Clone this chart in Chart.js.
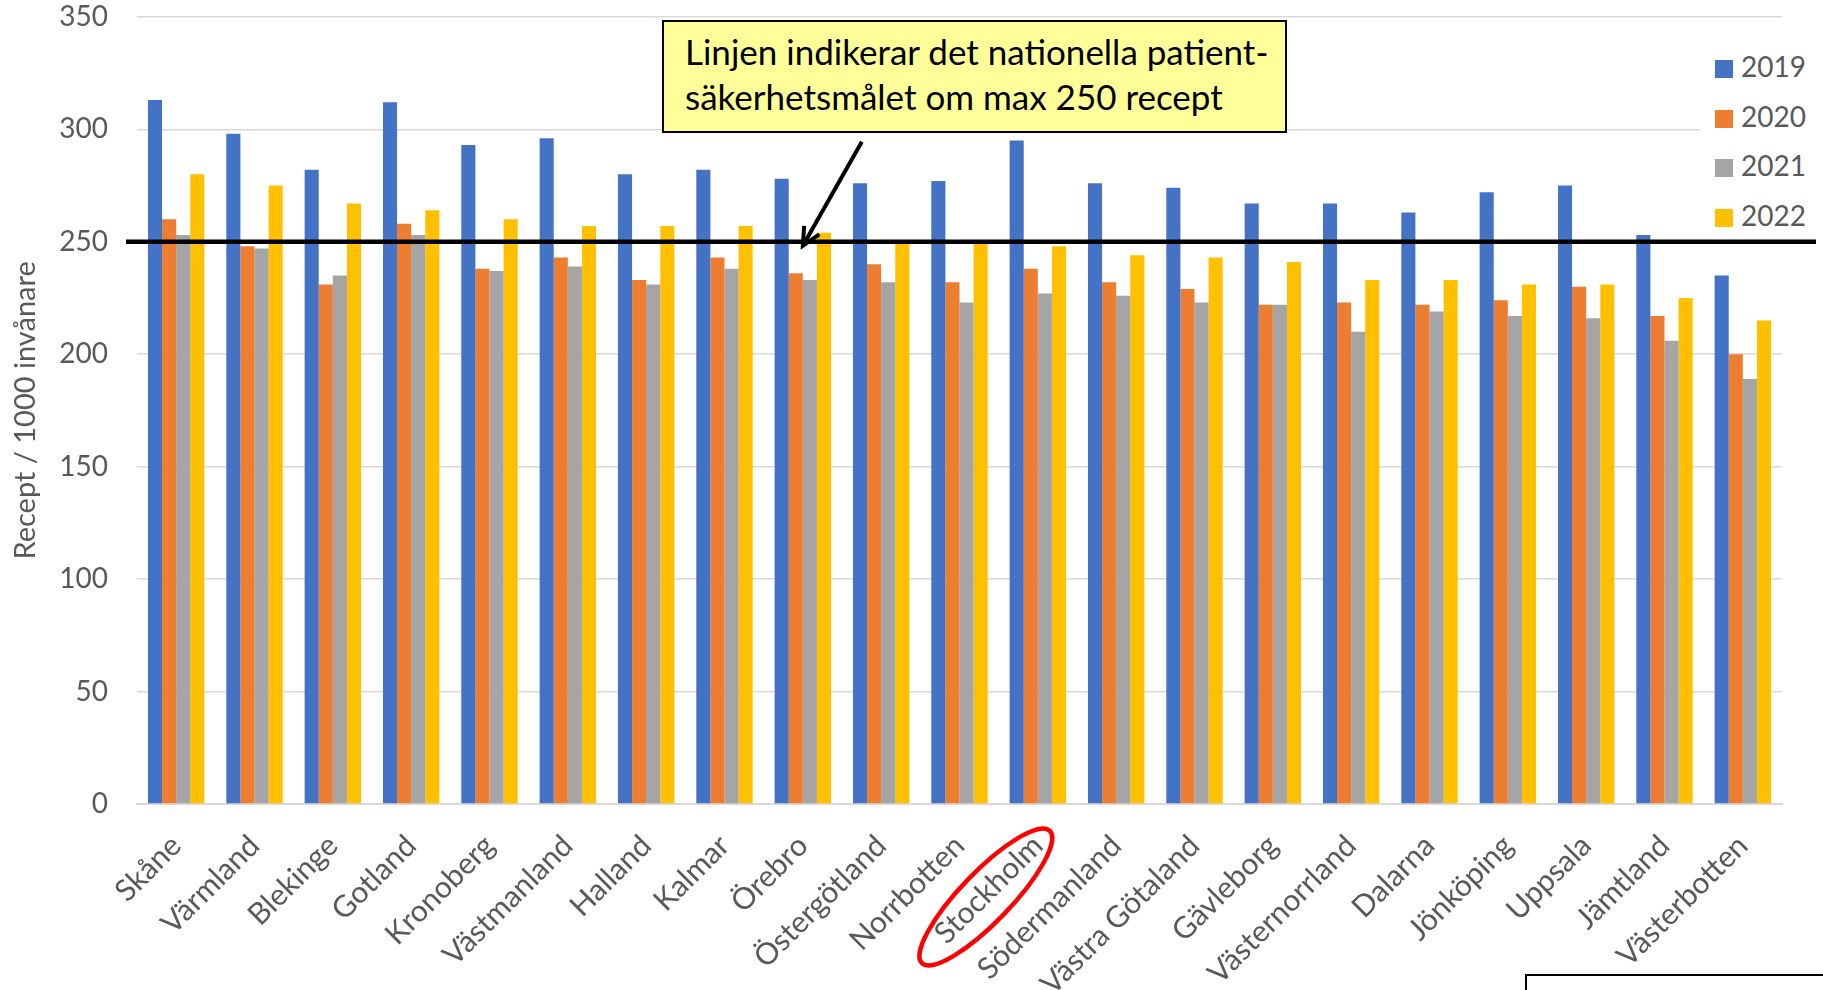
<!DOCTYPE html>
<html>
<head>
<meta charset="utf-8">
<script src="https://cdn.jsdelivr.net/npm/chart.js@4"></script>
<style>
  body { margin: 0; background: #fff; }
  #wrap { position: relative; width: 1823px; height: 990px; overflow: hidden; font-family: Lato, "Open Sans", sans-serif; }
  #note {
    position: absolute; left: 662px; top: 20px; width: 600px; height: 102px;
    background: #FFFF99; border: 2px solid #000;
    font-size: 35px; line-height: 45px; color: #000;
    padding: 7px 0 0 21px; white-space: nowrap;
  }
  #legend {
    position: absolute; left: 1700px; top: 40px; width: 123px; height: 196px; background: #fff;
  }
  .item { position: absolute; left: 15px; height: 30px; font-size: 28px; color: #595959; line-height: 30px; }
  .item span.box { display: inline-block; width: 18px; height: 18px; margin-right: 8px; vertical-align: -1px; }
  #corner { position: absolute; left: 1525px; top: 974px; width: 310px; height: 40px; border: 2px solid #000; }
</style>
</head>
<body>
<div id="wrap">
  <canvas id="chart" width="1823" height="990"></canvas>
  <div id="note">Linjen indikerar det nationella patient-<br>säkerhetsmålet om max 250 recept</div>
  <div id="legend"></div>
  <div id="corner"></div>
</div>
<script>
// =======================
//  DATA
// =======================
const regions = ["Skåne", "Värmland", "Blekinge", "Gotland", "Kronoberg", "Västmanland", "Halland",
  "Kalmar", "Örebro", "Östergötland", "Norrbotten", "Stockholm", "Södermanland", "Västra Götaland",
  "Gävleborg", "Västernorrland", "Dalarna", "Jönköping", "Uppsala", "Jämtland", "Västerbotten"];

const years = ["2019", "2020", "2021", "2022"];

const v2019 = [313, 298, 282, 312, 293, 296, 280, 282, 278, 276, 277, 295, 276, 274, 267, 267, 263, 272, 275, 253, 235];
const v2020 = [260, 248, 231, 258, 238, 243, 233, 243, 236, 240, 232, 238, 232, 229, 222, 223, 222, 224, 230, 217, 200];
const v2021 = [253, 247, 235, 253, 237, 239, 231, 238, 233, 232, 223, 227, 226, 223, 222, 210, 219, 217, 216, 206, 189];
const v2022 = [280, 275, 267, 264, 260, 257, 257, 257, 254, 250, 250, 248, 244, 243, 241, 233, 233, 231, 231, 225, 215];

const yTicks = [0, 50, 100, 150, 200, 250, 300, 350];
const targetValue = 250;        // nationellt patientsäkerhetsmål
const arrowRegion = "Örebro";   // pilen pekar här
const circledRegion = "Stockholm";

const colors = ["#4472C4", "#ED7D31", "#A5A5A5", "#FFC000"];
const seriesValues = [v2019, v2020, v2021, v2022];

// =======================
//  LEGEND (html)
// =======================
const legendEl = document.getElementById("legend");
years.forEach((y, i) => {
  const d = document.createElement("div");
  d.className = "item";
  d.style.top = (11 + i * 49.7) + "px";
  d.innerHTML = '<span class="box" style="background:' + colors[i] + '"></span>' + y;
  legendEl.appendChild(d);
});

// =======================
//  EXTRA DRAWING
// =======================
const extras = {
  id: "extras",
  afterDatasetsDraw(chart) {
    const { ctx, chartArea, scales } = chart;
    const yT = scales.y.getPixelForValue(targetValue);
    ctx.save();
    // target line
    ctx.strokeStyle = "#000";
    ctx.lineWidth = 4.5;
    ctx.beginPath();
    ctx.moveTo(chartArea.left - 11, yT);
    ctx.lineTo(chart.width - 7, yT);
    ctx.stroke();

    // arrow
    const tx = scales.x.getPixelForValue(regions.indexOf(arrowRegion));
    const ty = yT + 4;
    const sx = tx + 59, sy = ty - 104;
    ctx.lineWidth = 4;
    ctx.beginPath();
    ctx.moveTo(sx, sy);
    ctx.lineTo(tx, ty);
    ctx.stroke();
    const ang = Math.atan2(ty - sy, tx - sx);
    ctx.beginPath();
    ctx.moveTo(tx - 20 * Math.cos(ang - 0.45), ty - 20 * Math.sin(ang - 0.45));
    ctx.lineTo(tx, ty);
    ctx.lineTo(tx - 20 * Math.cos(ang + 0.45), ty - 20 * Math.sin(ang + 0.45));
    ctx.stroke();

    // red ellipse around Stockholm
    const cx = scales.x.getPixelForValue(regions.indexOf(circledRegion)) - 52;
    const cy = chartArea.bottom + 93;
    ctx.strokeStyle = "#FF0000";
    ctx.lineWidth = 4.5;
    ctx.beginPath();
    ctx.ellipse(cx, cy, 92, 25, -46 * Math.PI / 180, 0, Math.PI * 2);
    ctx.stroke();
    ctx.restore();
  }
};

// =======================
//  CHART
// =======================
const chart = new Chart(document.getElementById("chart"), {
  type: "bar",
  data: {
    labels: regions,
    datasets: years.map((y, i) => ({
      label: y,
      data: seriesValues[i],
      backgroundColor: colors[i],
      borderWidth: 0,
      categoryPercentage: 0.72,
      barPercentage: 1.0
    }))
  },
  options: {
    responsive: false,
    animation: false,
    layout: { padding: { top: 0, right: 41, left: 0, bottom: 0 } },
    plugins: { legend: { display: false }, tooltip: { enabled: false } },
    scales: {
      x: {
        grid: { display: false },
        border: { display: true, color: "#D9D9D9", width: 2 },
        ticks: {
          color: "#595959",
          font: { family: "Lato", size: 30 },
          minRotation: 45, maxRotation: 45, autoSkip: false, padding: 16
        },
        afterFit(scale) { scale.height = 186; }
      },
      y: {
        min: 0, max: 350,
        afterBuildTicks(scale) { scale.ticks = yTicks.map(v => ({ value: v })); },
        grid: { color: "#D9D9D9", lineWidth: 1.5, drawTicks: true, tickLength: 29, tickColor: "rgba(0,0,0,0)" },
        border: { display: false },
        ticks: { color: "#595959", font: { family: "Lato", size: 28 }, padding: 0 },
        title: {
          display: true, text: "Recept / 1000 invånare", color: "#595959",
          font: { family: "Lato", size: 29 }, padding: { top: 8, bottom: 0 }
        },
        afterFit(scale) { scale.width = 137; }
      }
    }
  },
  plugins: [extras]
});
</script>
</body>
</html>
